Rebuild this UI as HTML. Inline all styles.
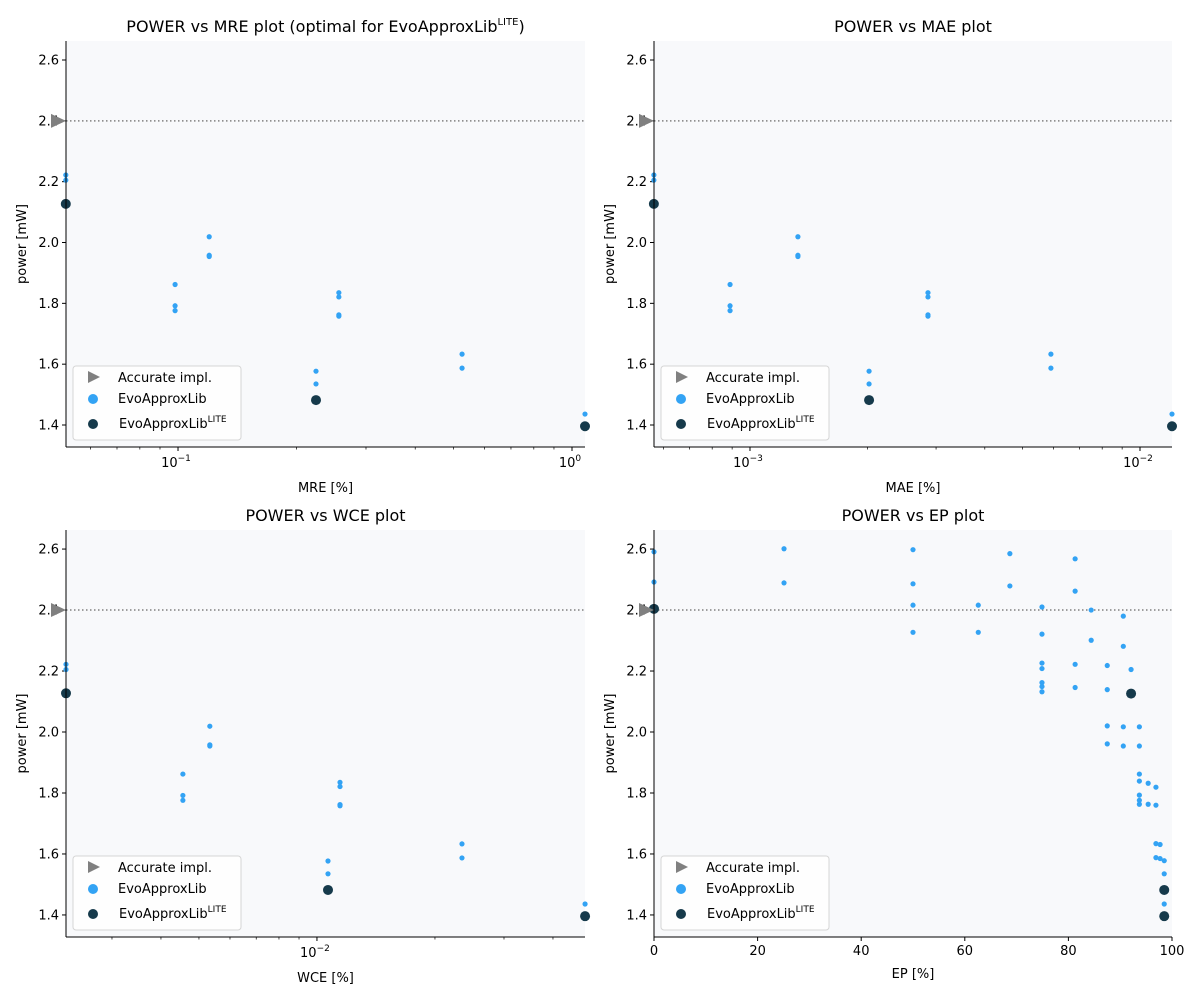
<!DOCTYPE html>
<html><head><meta charset="utf-8">
<style>
html,body{margin:0;padding:0;background:#fff;}
svg{display:block;font-family:"DejaVu Sans","Liberation Sans",sans-serif;}
</style></head>
<body>
<svg id="fig" width="1200" height="1000" viewBox="0 0 1200 1000" xmlns="http://www.w3.org/2000/svg"></svg>
<script>
// ---- data ----
const groupPower = [[2.222, 2.205], [1.862, 1.792, 1.776], [2.019, 1.958, 1.954], [1.577, 1.535], [1.835, 1.821, 1.762, 1.758], [1.633, 1.587], [1.436]];
const mreX = [0.0519, 0.0983, 0.120, 0.224, 0.256, 0.526, 1.079];
const maeX = [5.67e-4, 8.89e-4, 1.327e-3, 2.02e-3, 2.86e-3, 5.91e-3, 0.01208];
const wceX = [2.29e-3, 4.55e-3, 5.33e-3, 0.01067, 0.01145, 0.02344, 0.0483];
const litePower = [2.127, 1.482, 1.396];
const mreLiteX = [0.0519, 0.224, 1.079];
const maeLiteX = [5.67e-4, 2.02e-3, 0.01208];
const wceLiteX = [2.29e-3, 0.01067, 0.0483];
const epX = [0, 0, 25.1, 25.1, 50, 50, 50, 50, 62.6, 62.6, 68.7, 68.7, 74.9, 74.9, 74.9, 74.9, 74.9, 74.9, 74.9, 81.3, 81.3, 81.3, 81.3, 84.4, 84.4, 87.5, 87.5, 87.5, 87.5, 90.6, 90.6, 90.6, 90.6, 92.1, 93.7, 93.7, 93.7, 93.7, 93.7, 93.7, 93.7, 95.4, 95.4, 96.9, 96.9, 96.9, 97.7, 96.9, 97.7, 98.5, 98.5, 98.5];
const epY = [2.591, 2.492, 2.601, 2.489, 2.598, 2.486, 2.416, 2.327, 2.416, 2.327, 2.585, 2.479, 2.410, 2.321, 2.226, 2.208, 2.162, 2.149, 2.132, 2.568, 2.462, 2.222, 2.146, 2.400, 2.301, 2.218, 2.139, 2.020, 1.961, 2.380, 2.281, 2.017, 1.954, 2.205, 2.017, 1.954, 1.862, 1.839, 1.793, 1.776, 1.763, 1.832, 1.763, 1.819, 1.760, 1.634, 1.631, 1.588, 1.585, 1.578, 1.535, 1.436];
const epLiteX = [0, 92.1, 98.5, 98.5];
const epLiteY = [2.404, 2.126, 1.482, 1.396];
const accuratePower = 2.4;
const yTicks = [1.4, 1.6, 1.8, 2.0, 2.2, 2.4, 2.6];
const epTicks = [0, 20, 40, 60, 80, 100];

const NS = "http://www.w3.org/2000/svg";
const svg = document.getElementById('fig');
function mk(tag, attrs, parent) {
  const e = document.createElementNS(NS, tag);
  for (const k in attrs) e.setAttribute(k, attrs[k]);
  (parent || svg).appendChild(e);
  return e;
}
const BLUE = '#33a3f4', DARK = '#163a4b';
const Y_LO = 1.3277, Y_HI = 2.6625;

function panel(cfg) {
  const g = mk('g', {});
  
  
  const {x0, x1, y0, y1} = cfg;
  const sx = cfg.log
    ? v => x0 + (Math.log10(v) - Math.log10(cfg.lo)) / (Math.log10(cfg.hi) - Math.log10(cfg.lo)) * (x1 - x0)
    : v => x0 + (v - cfg.lo) / (cfg.hi - cfg.lo) * (x1 - x0);
  const sy = v => y1 - (v - Y_LO) / (Y_HI - Y_LO) * (y1 - y0);
  const bg = mk('rect', {x: x0, y: y0, width: x1 - x0, height: y1 - y0, fill: '#f8f9fb'}, g);
  
  
  // title
  const t = mk('text', {x: (x0 + x1) / 2, y: y0 - 9, 'text-anchor': 'middle', 'font-size': 16, fill: '#000'}, g);
  
  
  t.textContent = cfg.title;
  if (cfg.titleSup) {
    const ts = mk('tspan', {'font-size': 10, dy: -7}, t); ts.textContent = cfg.titleSup;
    const te = mk('tspan', {dy: 7}, t); te.textContent = ')';
  }
  // y ticks
  yTicks.forEach(v => {
    const y = sy(v);
    mk('line', {x1: x0 - 4, x2: x0, y1: y, y2: y, stroke: '#000', 'stroke-width': 1}, g);
    const l = mk('text', {x: x0 - 7, y: y + 4.5, 'text-anchor': 'end', 'font-size': 13}, g);
    
    
    l.textContent = v.toFixed(1);
  });
  const yl = mk('text', {transform: `translate(${x0 - 40},${(y0 + y1) / 2}) rotate(-90)`, 'text-anchor': 'middle', 'font-size': 13}, g);
  
  
  yl.textContent = 'power [mW]';
  // x ticks
  if (cfg.log) {
    const e0 = Math.floor(Math.log10(cfg.lo)), e1 = Math.ceil(Math.log10(cfg.hi));
    for (let e = e0; e <= e1; e++) {
      for (let m = 1; m <= 9; m++) {
        const v = m * Math.pow(10, e);
        if (v < cfg.lo * 0.999 || v > cfg.hi * 1.001) continue;
        const x = sx(v);
        mk('line', {x1: x, x2: x, y1: y1, y2: y1 + (m === 1 ? 4 : 2.5), stroke: '#000', 'stroke-width': m === 1 ? 1 : 0.7}, g);
        if (m === 1) {
          const l = mk('text', {x: x - 2, y: y1 + 20, 'text-anchor': 'middle', 'font-size': 13}, g);
          
          
          l.textContent = '10';
          const s = mk('tspan', {'font-size': 9, dy: -6}, l); s.textContent = e === 0 ? '0' : '\u2212' + (-e);
        }
      }
    }
  } else {
    epTicks.forEach(v => {
      const x = sx(v);
      mk('line', {x1: x, x2: x, y1: y1, y2: y1 + 4, stroke: '#000', 'stroke-width': 1}, g);
      const l = mk('text', {x: x, y: y1 + 18, 'text-anchor': 'middle', 'font-size': 13}, g);
      
      
      l.textContent = v;
    });
  }
  const xl = mk('text', {x: (x0 + x1) / 2, y: y1 + (cfg.log ? 45 : 41), 'text-anchor': 'middle', 'font-size': 13}, g);
  
  
  xl.textContent = cfg.xlabel;
  // accurate line
  const ay = sy(accuratePower);
  const al = mk('line', {x1: x0, x2: x1, y1: ay, y2: ay, stroke: '#808080', 'stroke-width': 1.5, 'stroke-dasharray': '1.5 2.5'}, g);
  
  
  // blue points
  cfg.bx.forEach((xv, i) => {
    const c = mk('circle', {cx: sx(xv), cy: sy(cfg.by[i]), r: 2.6, fill: BLUE}, g);
    
    
  });
  cfg.lx.forEach((xv, i) => {
    const c = mk('circle', {cx: sx(xv), cy: sy(cfg.ly[i]), r: 5, fill: DARK}, g);
    
    
  });
  const tri = mk('polygon', {points: `${x0 - 15},${ay - 7} ${x0 - 15},${ay + 7} ${x0},${ay}`, fill: '#808080'}, g);
  
  
  // spines
  mk('line', {x1: x0, x2: x0, y1: y0, y2: y1, stroke: '#000', 'stroke-width': 1}, g);
  mk('line', {x1: x0, x2: x1, y1: y1, y2: y1, stroke: '#000', 'stroke-width': 1}, g);
  // legend
  const lg = mk('g', {}, g);
  
  
  const lx = x0 + 7, ly = y1 - 81;
  mk('rect', {x: lx, y: ly, width: 168, height: 74, rx: 3, fill: '#fff', 'fill-opacity': 0.8, stroke: '#d5d5d5', 'stroke-width': 1}, lg);
  mk('polygon', {points: `${lx + 15},${ly + 5} ${lx + 15},${ly + 17} ${lx + 27},${ly + 11}`, fill: '#808080'}, lg);
  mk('circle', {cx: lx + 20, cy: ly + 33, r: 5, fill: BLUE}, lg);
  mk('circle', {cx: lx + 20, cy: ly + 58, r: 5, fill: DARK}, lg);
  const e1t = mk('text', {x: lx + 45, y: ly + 16, 'font-size': 13}, lg);
  
  
  e1t.textContent = 'Accurate impl.';
  const e2t = mk('text', {x: lx + 45, y: ly + 37, 'font-size': 13}, lg);
  
  
  e2t.textContent = 'EvoApproxLib';
  const e3t = mk('text', {x: lx + 46, y: ly + 62, 'font-size': 13}, lg);
  
  
  e3t.textContent = 'EvoApproxLib';
  const sp = mk('tspan', {'font-size': 9, dy: -6}, e3t); sp.textContent = 'LITE';
}

function expand(xs) {
  const ox = [], oy = [];
  groupPower.forEach((arr, i) => arr.forEach(p => { ox.push(xs[i]); oy.push(p); }));
  return [ox, oy];
}
const [mbx, mby] = expand(mreX);
const [abx, aby] = expand(maeX);
const [wbx, wby] = expand(wceX);

panel({name: 'power-vs-mre-panel', title: 'POWER vs MRE plot (optimal for EvoApproxLib', titleSup: 'LITE', xlabel: 'MRE [%]',
  x0: 66, x1: 585, y0: 41, y1: 447, log: true, lo: 0.05196, hi: 1.079, bx: mbx, by: mby, lx: mreLiteX, ly: litePower});
panel({name: 'power-vs-mae-panel', title: 'POWER vs MAE plot', xlabel: 'MAE [%]',
  x0: 654, x1: 1172, y0: 41, y1: 447, log: true, lo: 5.674e-4, hi: 0.01208, bx: abx, by: aby, lx: maeLiteX, ly: litePower});
panel({name: 'power-vs-wce-panel', title: 'POWER vs WCE plot', xlabel: 'WCE [%]',
  x0: 66, x1: 585, y0: 530, y1: 937, log: true, lo: 2.290e-3, hi: 0.04828, bx: wbx, by: wby, lx: wceLiteX, ly: litePower});
panel({name: 'power-vs-ep-panel', title: 'POWER vs EP plot', xlabel: 'EP [%]',
  x0: 654, x1: 1172, y0: 530, y1: 937, log: false, lo: 0, hi: 100, bx: epX, by: epY, lx: epLiteX, ly: epLiteY});
</script>
</body></html>
